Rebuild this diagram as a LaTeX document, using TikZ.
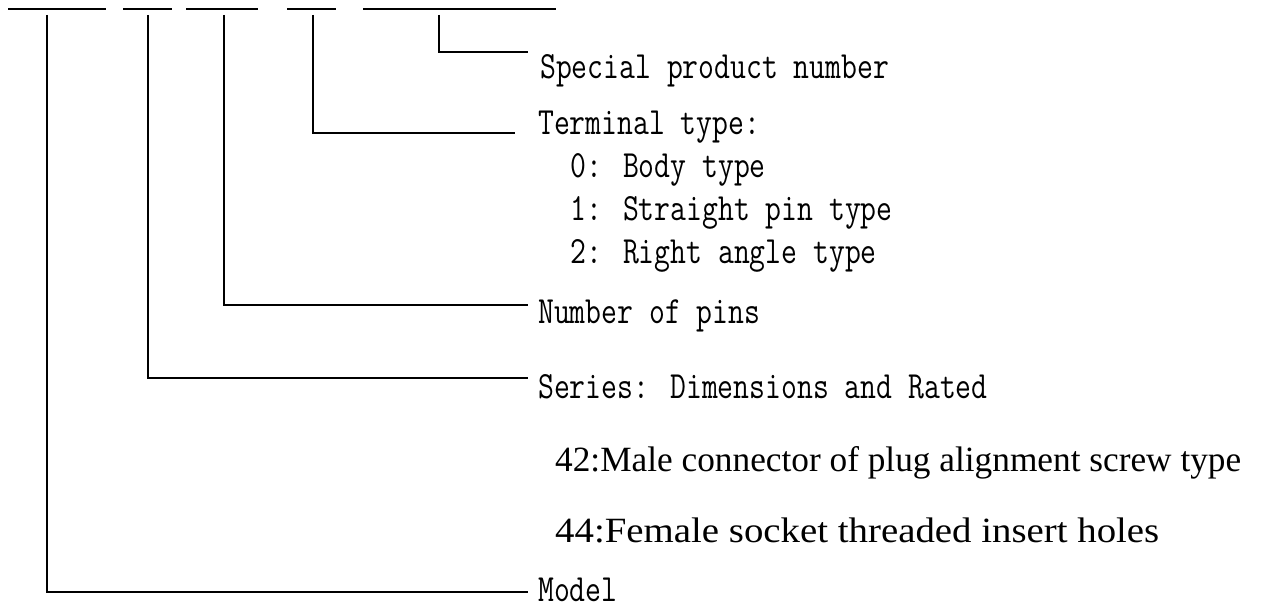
\documentclass[tikz,border=0pt]{standalone}
\usepackage{fontspec}
\usepackage{graphicx}
\usetikzlibrary{positioning}
\newfontfamily\narrowserif{Liberation Serif}

\newcommand{\monotext}[1]{\scalebox{0.80}[1]{#1}}

\begin{document}
\begin{tikzpicture}[
    x=1pt, y=-1pt,
    lead/.style={line width=1.6pt},
    code/.style={inner sep=0pt, anchor=base west, font=\fontsize{38.5}{40}\selectfont\ttfamily},
    note/.style={inner sep=0pt, anchor=base west, font=\fontsize{35.5}{38}\selectfont\narrowserif}
]
    \useasboundingbox (0,0) rectangle (1261,607);

    % Blanks of the code
    \foreach \a/\b in {8/106, 123/172, 186/258, 287/336, 363/556}
        \draw[lead] (\a,9) -- (\b,9);

    % Where the leads start
    \coordinate (model-top) at (47,15);
    \coordinate (series-top) at (148,15);
    \coordinate (pins-top) at (224,15);
    \coordinate (term-top) at (313,15);
    \coordinate (special-top) at (439,15);

    % Where the leads end
    \coordinate (model-end) at (528,592);
    \coordinate (series-end) at (528,378);
    \coordinate (pins-end) at (528,305);
    \coordinate (term-end) at (515,133);
    \coordinate (special-end) at (528,52);

    % Labels
    \node[code] (special) at (540,79) {\monotext{Special product number}};
    \node[code] (term) at (538,135) {\monotext{Terminal type:}};
    \node[code] (term0) at (570,178) {\monotext{0: Body type}};
    \node[code] (term1) at (570,220) {\monotext{1: Straight pin type}};
    \node[code] (term2) at (570,263) {\monotext{2: Right angle type}};
    \node[code] (pins) at (538,323) {\monotext{Number of pins}};
    \node[code] (series) at (538,398) {\monotext{Series: Dimensions and Rated}};
    \node[note] (male) at (555,471) {\resizebox{686pt}{\height}{42:Male connector of plug alignment screw type}};
    \node[note] (female) at (555,542) {\resizebox{604pt}{\height}{44:Female socket threaded insert holes}};
    \node[code] (model) at (538,601) {\monotext{Model}};

    % Leads
    \draw[lead] (special-top) |- (special-end);
    \draw[lead] (term-top) |- (term-end);
    \draw[lead] (pins-top) |- (pins-end);
    \draw[lead] (series-top) |- (series-end);
    \draw[lead] (model-top) |- (model-end);
\end{tikzpicture}
\end{document}
